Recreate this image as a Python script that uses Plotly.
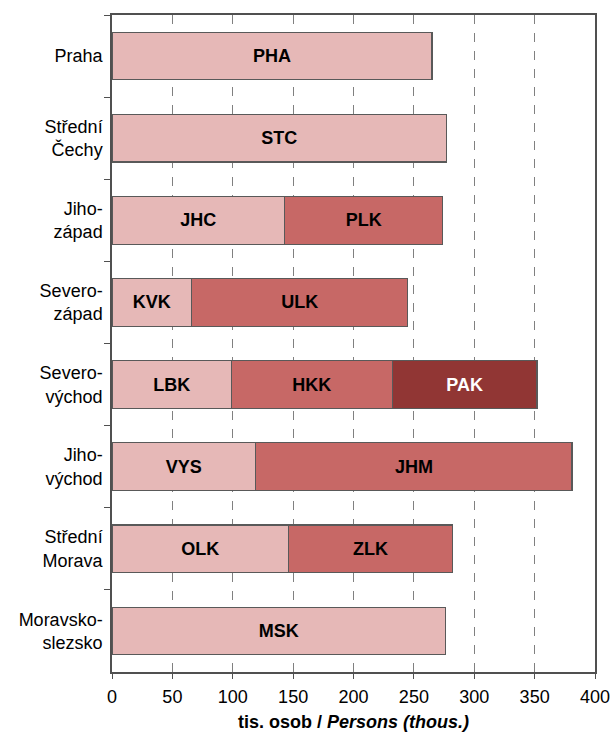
import plotly.graph_objects as go

# Regions (NUTS 2) and their kraje, stacked left to right
regions = ["Praha", "Střední<br>Čechy", "Jiho-<br>západ", "Severo-<br>západ",
           "Severo-<br>východ", "Jiho-<br>východ", "Střední<br>Morava", "Moravsko-<br>slezsko"]

seg1_codes = ["PHA", "STC", "JHC", "KVK", "LBK", "VYS", "OLK", "MSK"]
seg1_vals = [265, 277, 143, 66, 99, 119, 146, 276]

seg2_codes = [None, None, "PLK", "ULK", "HKK", "JHM", "ZLK", None]
seg2_vals = [None, None, 131, 179, 133, 262, 136, None]

seg3_codes = [None, None, None, None, "PAK", None, None, None]
seg3_vals = [None, None, None, None, 120, None, None, None]

x_ticks = [0, 50, 100, 150, 200, 250, 300, 350, 400]
x_title = "<b>tis. osob / <i>Persons (thous.)</i></b>"

fills = ["#E6B8B7", "#C76866", "#913634"]
text_colors = ["#000000", "#000000", "#FFFFFF"]

FONT = "Liberation Sans, Arial"

fig = go.Figure()
for codes, vals, fill, tcol in zip([seg1_codes, seg2_codes, seg3_codes],
                                   [seg1_vals, seg2_vals, seg3_vals],
                                   fills, text_colors):
    fig.add_trace(go.Bar(
        y=regions, x=vals, orientation="h",
        text=codes, textposition="inside", insidetextanchor="middle",
        textangle=0, constraintext="none",
        textfont=dict(family=FONT, size=18, color=tcol, weight="bold"),
        marker=dict(color=fill, line=dict(color="#595959", width=1.2)),
        width=0.58, showlegend=False, hoverinfo="skip",
    ))

fig.update_layout(
    barmode="stack",
    width=610, height=733,
    margin=dict(l=112, r=15, t=15, b=61),
    paper_bgcolor="white", plot_bgcolor="white",
    font=dict(family=FONT, size=18, color="#000000"),
    xaxis=dict(
        range=[0, 400], tickvals=x_ticks, ticktext=[str(v) for v in x_ticks],
        showgrid=True, gridcolor="#808080", griddash="dash", gridwidth=1,
        showline=True, linecolor="#505050", linewidth=1.5, mirror=True,
        ticks="outside", ticklen=5, tickcolor="#505050",
        tickfont=dict(size=18), zeroline=False, automargin=False,
        ticklabeloverflow="allow", ticklabelstandoff=3,
    ),
    yaxis=dict(
        autorange="reversed", type="category", tickson="boundaries",
        showgrid=False, showline=True, linecolor="#505050", linewidth=1.5, mirror=True,
        ticks="outside", ticklen=6, tickcolor="#505050",
        tickfont=dict(size=18), zeroline=False, automargin=False,
        ticklabelstandoff=4,
    ),
    annotations=[dict(
        text=x_title, xref="paper", yref="paper", x=0.5, y=0,
        xanchor="center", yanchor="middle", yshift=-50,
        showarrow=False, font=dict(size=18),
    )],
)

fig.write_html("out.html")
